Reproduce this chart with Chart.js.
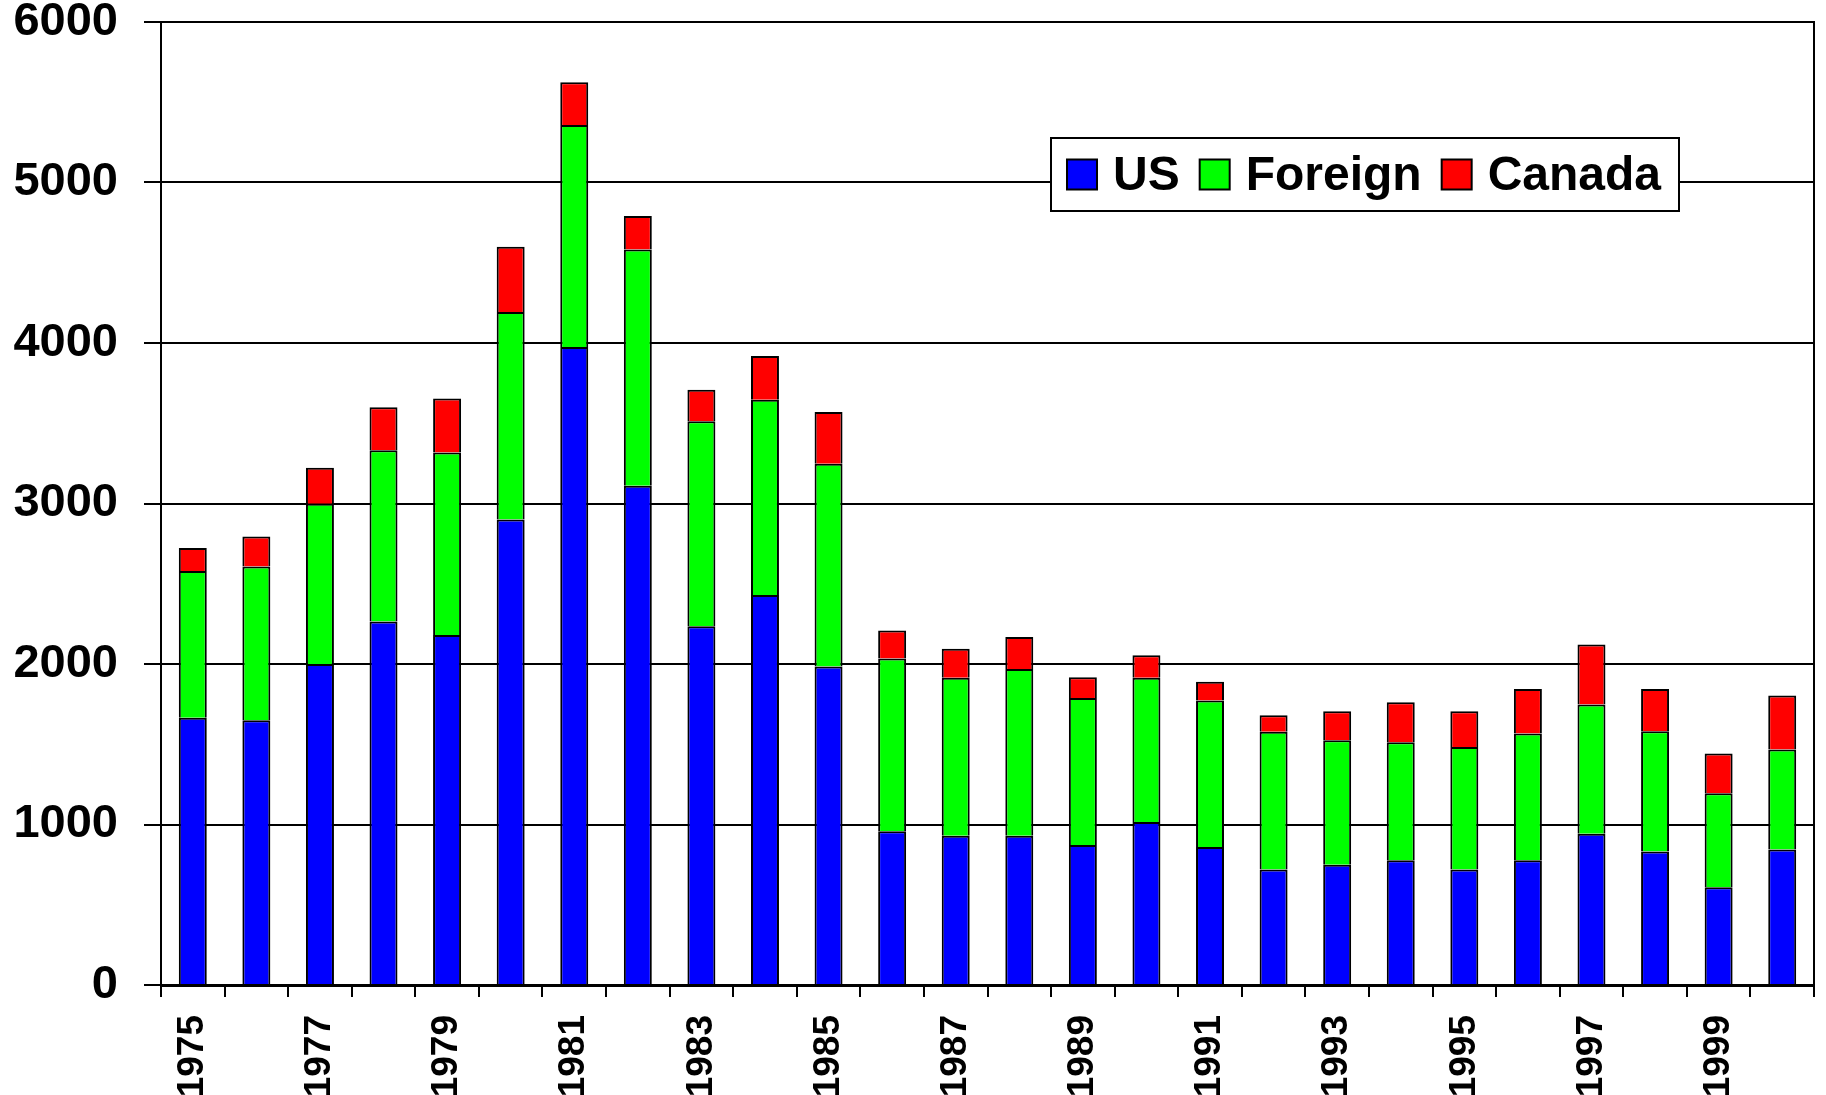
<!DOCTYPE html>
<html>
<head>
<meta charset="utf-8">
<script src="https://cdn.jsdelivr.net/npm/chart.js@4/dist/chart.umd.min.js"></script>
<style>
  body { margin: 0; background: #fff; }
  #wrap { width: 1826px; height: 1095px; }
</style>
</head>
<body>
<div id="wrap"><canvas id="myChart" width="1826" height="1095"></canvas></div>
<script>
// years on the x axis
var years = ['1975','1976','1977','1978','1979','1980','1981','1982','1983','1984','1985','1986','1987',
             '1988','1989','1990','1991','1992','1993','1994','1995','1996','1997','1998','1999','2000'];

// series values
var usVals      = [1665,1650,2000,2265,2180,2900,3975,3110,2235,2430,1985, 958, 930, 930, 872,1015, 860, 720, 750, 777, 720, 777, 943, 832, 609, 845];
var foreignVals = [ 914, 957, 998,1066,1138,1293,1384,1472,1277,1217,1262,1077, 984,1039, 916, 899, 913, 858, 775, 735, 763, 790, 805, 749, 585, 623];
var canadaVals  = [ 144, 188, 224, 268, 336, 407, 265, 209, 196, 272, 323, 173, 181, 199, 130, 141, 117, 102, 181, 250, 223, 278, 373, 264, 248, 335];

var yTicks = [0, 1000, 2000, 3000, 4000, 5000, 6000];

var FONT = "'Liberation Sans', Arial, sans-serif";

// draws the boxed legend inside the plot and the right frame line
var framePlugin = {
    id: 'frameAndLegend',
    afterDraw: function(chart) {
        var c = chart.ctx;
        var a = chart.chartArea;
        c.save();
        c.strokeStyle = '#000';
        c.lineWidth = 2;
        c.beginPath();
        c.moveTo(a.right, a.top - 1);
        c.lineTo(a.right, a.bottom);
        c.stroke();

        // legend box
        var bx = 1051, by = 138, bw = 628, bh = 73;
        c.fillStyle = '#fff';
        c.fillRect(bx, by, bw, bh);
        c.lineWidth = 2;
        c.strokeRect(bx, by, bw, bh);

        c.font = 'bold 48px ' + FONT;
        c.textBaseline = 'middle';
        var x = bx + 16;
        var cy = by + bh / 2;
        chart.data.datasets.forEach(function(ds) {
            c.fillStyle = ds.backgroundColor;
            c.fillRect(x, cy - 15, 30, 30);
            c.lineWidth = 2;
            c.strokeStyle = '#000';
            c.strokeRect(x, cy - 15, 30, 30);
            x += 46;
            c.fillStyle = '#000';
            c.fillText(ds.label, x, cy + 2);
            x += c.measureText(ds.label).width + 20;
        });
        c.restore();
    }
};

new Chart('myChart', {
    type: 'bar',
    data: {
        labels: years,
        datasets: [
            { label: 'US',      data: usVals,      backgroundColor: '#0000ff' },
            { label: 'Foreign', data: foreignVals, backgroundColor: '#00ff00' },
            { label: 'Canada',  data: canadaVals,  backgroundColor: '#ff0000' }
        ]
    },
    options: {
        responsive: false,
        animation: false,
        layout: { padding: { top: 22, right: 12, bottom: 0, left: 0 } },
        datasets: {
            bar: {
                borderColor: '#000',
                borderWidth: 2,
                categoryPercentage: 1,
                barPercentage: 0.44
            }
        },
        plugins: {
            legend: { display: false },
            tooltip: { enabled: false }
        },
        scales: {
            x: {
                stacked: true,
                grid: {
                    offset: true,
                    drawOnChartArea: false,
                    drawTicks: true,
                    tickLength: 12,
                    color: '#000',
                    lineWidth: 2
                },
                border: { display: true, color: '#000', width: 3 },
                ticks: {
                    autoSkip: false,
                    minRotation: 90,
                    maxRotation: 90,
                    padding: 18,
                    color: '#000',
                    font: { family: FONT, size: 37, weight: 'bold' },
                    callback: function(val, i) {
                        return i % 2 === 0 ? years[i] : '';
                    }
                },
                afterFit: function(s) {
                    s.height = 110;
                    s.paddingLeft = 0;
                    s.paddingRight = 0;
                }
            },
            y: {
                stacked: true,
                min: 0,
                max: 6000,
                afterBuildTicks: function(s) {
                    s.ticks = yTicks.map(function(v) { return { value: v }; });
                },
                grid: {
                    color: '#000',
                    lineWidth: 2,
                    drawTicks: true,
                    tickLength: 17
                },
                border: { display: true, color: '#000', width: 2 },
                ticks: {
                    padding: 26,
                    color: '#000',
                    font: { family: FONT, size: 47, weight: 'bold' },
                    callback: function(v) { return String(v); }
                },
                afterFit: function(s) {
                    s.width = 161;
                    s.paddingTop = 0;
                    s.paddingBottom = 0;
                }
            }
        }
    },
    plugins: [framePlugin]
});
</script>
</body>
</html>
